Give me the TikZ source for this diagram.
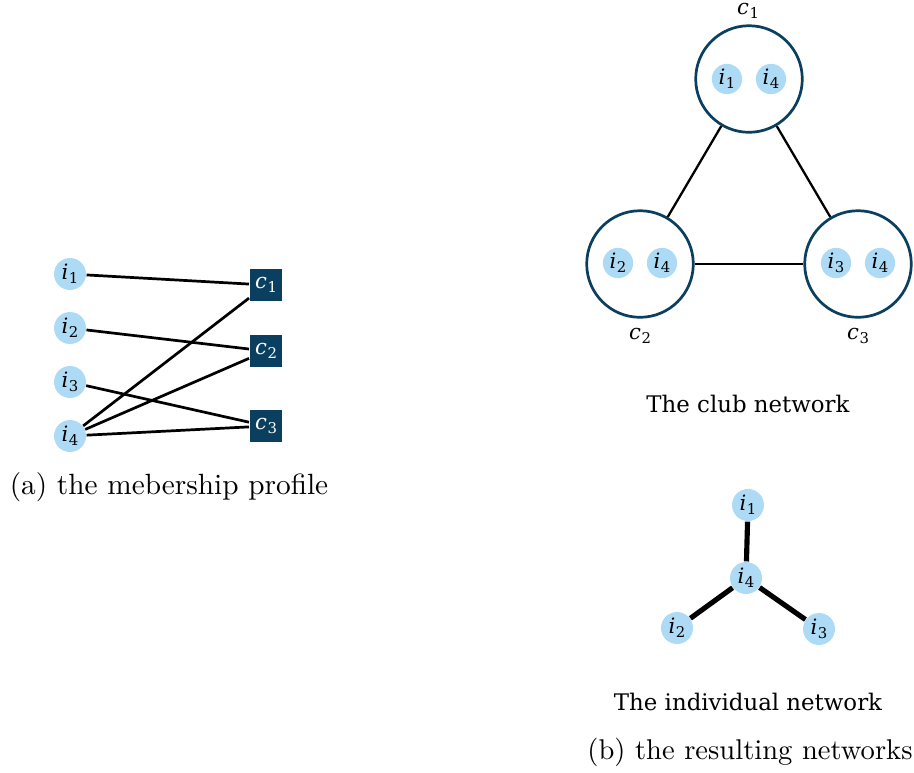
\documentclass[tikz,border=0pt]{standalone}
\usepackage{fontspec}
\newfontfamily\dvs{DejaVu Serif}
\definecolor{lb}{HTML}{ADDBF5}
\definecolor{dk}{HTML}{0A3F5F}
\newcommand\lbl[2]{\textit{#1}\kern0.03em\raisebox{-0.35ex}{\fontsize{5.2}{5.5}\selectfont #2}}
\begin{document}
\begin{tikzpicture}[x=0.35pt,y=-0.35pt,
  lab/.style={font=\dvs\fontsize{7.4}{8}\selectfont},
  ind/.style={lab,circle,fill=lb,inner sep=0pt,minimum size=11.2pt},
  indsm/.style={lab,circle,fill=lb,inner sep=0pt,minimum size=10.6pt},
  club/.style={lab,rectangle,fill=dk,text=white,inner sep=0pt,minimum size=11.5pt},
  bigc/.style={circle,draw=dk,line width=0.95pt,minimum size=37.3pt,inner sep=0pt},
  edge/.style={line width=0.95pt},
  tri/.style={line width=0.8pt},
  thick edge/.style={line width=1.8pt},
  capt/.style={font=\fontsize{10}{12}\selectfont},
  subcapt/.style={font=\dvs\fontsize{8}{10}\selectfont}]
\useasboundingbox (0,0) rectangle (914,772);

% (a) membership profile
\node[ind] (i1) at (70,274) {\lbl{i}{1}};
\node[ind] (i2) at (70,328) {\lbl{i}{2}};
\node[ind] (i3) at (70,382) {\lbl{i}{3}};
\node[ind] (i4) at (70,436) {\lbl{i}{4}};
\node[club] (c1) at (266,285) {\lbl{c}{1}};
\node[club] (c2) at (266,351) {\lbl{c}{2}};
\node[club] (c3) at (266,426) {\lbl{c}{3}};
\draw[edge] (i1) -- (c1);
\draw[edge] (i2) -- (c2);
\draw[edge] (i3) -- (c3);
\draw[edge] (i4) -- (c1);
\draw[edge] (i4) -- (c2);
\draw[edge] (i4) -- (c3);
\node[capt,font=\fontsize{10.25}{12}\selectfont] (capa) at (169,487) {(a) the mebership profile};

% (b) club network
\node[bigc] (C1) at (749,79) {};
\node[bigc] (C2) at (640,264) {};
\node[bigc] (C3) at (858,264) {};
\node[indsm] (C1a) at (727,79) {\lbl{i}{1}};
\node[indsm] (C1b) at (771,79) {\lbl{i}{4}};
\node[indsm] (C2a) at (618,263) {\lbl{i}{2}};
\node[indsm] (C2b) at (662,263) {\lbl{i}{4}};
\node[indsm] (C3a) at (836,263) {\lbl{i}{3}};
\node[indsm] (C3b) at (880,263) {\lbl{i}{4}};
\draw[tri] (C1) -- (C2);
\draw[tri] (C1) -- (C3);
\draw[tri] (C2) -- (C3);
\node[lab] (lc1) at (748,11) {\lbl{c}{1}};
\node[lab] (lc2) at (640,336) {\lbl{c}{2}};
\node[lab] (lc3) at (858,336) {\lbl{c}{3}};
\node[subcapt] (clubcap) at (748,404) {The club network};

% individual network
\node[ind] (n1) at (748,505) {\lbl{i}{1}};
\node[ind] (n4) at (746,578) {\lbl{i}{4}};
\node[ind] (n2) at (677,628) {\lbl{i}{2}};
\node[ind] (n3) at (819,629) {\lbl{i}{3}};
\draw[thick edge] (n4) -- (n1);
\draw[thick edge] (n4) -- (n2);
\draw[thick edge] (n4) -- (n3);
\node[subcapt] (indcap) at (748,702) {The individual network};
\node[capt] (capb) at (750,752) {(b) the resulting networks};
\end{tikzpicture}
\end{document}
